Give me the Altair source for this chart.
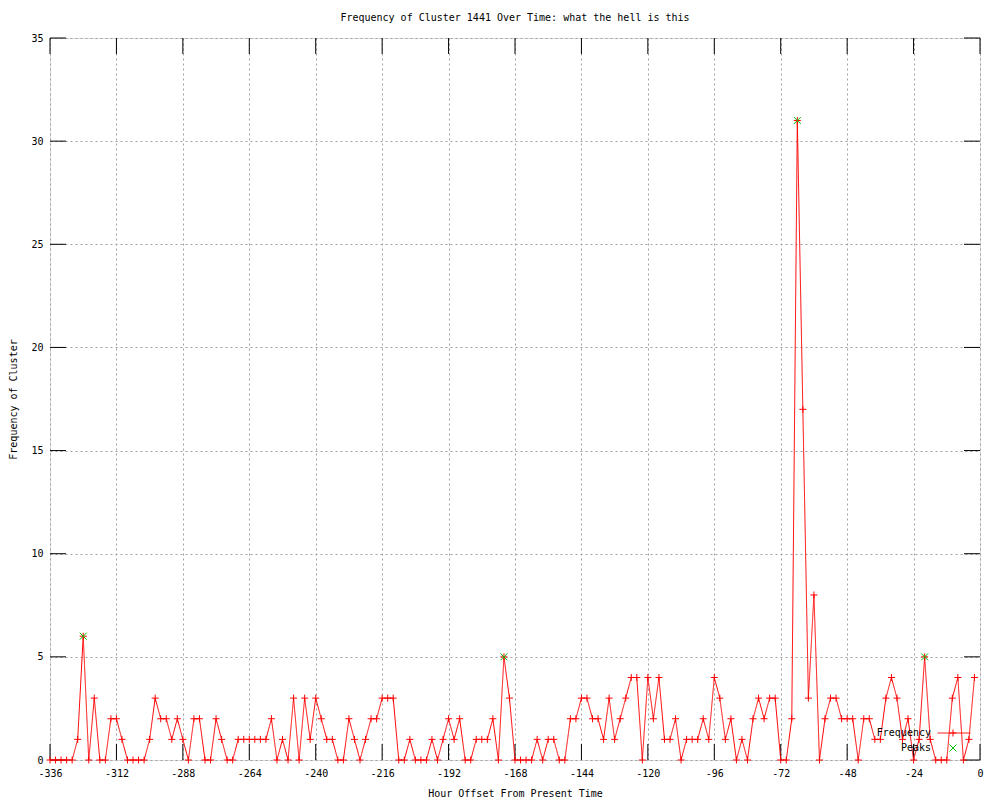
import altair as alt
import pandas as pd

# ---- data ----
hours = list(range(-336, 0, 2))
freq = [
    0, 0, 0, 0, 0, 1, 6, 0, 3, 0,
    0, 2, 2, 1, 0, 0, 0, 0, 1, 3,
    2, 2, 1, 2, 1, 0, 2, 2, 0, 0,
    2, 1, 0, 0, 1, 1, 1, 1, 1, 1,
    2, 0, 1, 0, 3, 0, 3, 1, 3, 2,
    1, 1, 0, 0, 2, 1, 0, 1, 2, 2,
    3, 3, 3, 0, 0, 1, 0, 0, 0, 1,
    0, 1, 2, 1, 2, 0, 0, 1, 1, 1,
    2, 0, 5, 3, 0, 0, 0, 0, 1, 0,
    1, 1, 0, 0, 2, 2, 3, 3, 2, 2,
    1, 3, 1, 2, 3, 4, 4, 0, 4, 2,
    4, 1, 1, 2, 0, 1, 1, 1, 2, 1,
    4, 3, 1, 2, 0, 1, 0, 2, 3, 2,
    3, 3, 0, 0, 2, 31, 17, 3, 8, 0,
    2, 3, 3, 2, 2, 2, 0, 2, 2, 1,
    1, 3, 4, 3, 1, 2, 0, 1, 5, 1,
    0, 0, 0, 3, 4, 0, 1, 4,
]
peak_hours = [-324, -172, -66, -20]
peak_values = [6, 5, 31, 5]
series_names = ["Frequency", "Peaks"]
x_ticks = list(range(-336, 1, 24))
y_ticks = list(range(0, 36, 5))

df = pd.DataFrame({"hour": hours, "freq": freq, "series": series_names[0]})
pk = pd.DataFrame({"hour": peak_hours, "freq": peak_values, "series": series_names[1]})
xt = pd.DataFrame({"t": x_ticks})
yt = pd.DataFrame({"t": y_ticks})

W, H = 930, 722
FONT = "DejaVu Sans Mono"
TICK = 16

xs = alt.Scale(domain=[-336, 0], nice=False, zero=False)
ys = alt.Scale(domain=[0, 35], nice=False)

cross = "M-1,0L1,0M0,-1L0,1"
xmark = "M-1,-1L1,1M-1,1L1,-1"
color_scale = alt.Scale(domain=series_names, range=["#ff0000", "#00c000"])
shape_scale = alt.Scale(domain=series_names, range=[cross, xmark])

x_axis = alt.Axis(values=x_ticks, title="Hour Offset From Present Time", grid=True,
                  gridColor="#a0a0a0", gridDash=[2, 3], gridWidth=1, ticks=False,
                  domain=False, labelFont=FONT, labelFontSize=10, labelColor="black",
                  labelPadding=8, labelExpr="'' + datum.value", titleFont=FONT,
                  titleFontSize=10, titleFontWeight="normal", titleColor="black",
                  titlePadding=10, labelFlush=False)
y_axis = alt.Axis(values=y_ticks, title="Frequency of Cluster", grid=True,
                  gridColor="#a0a0a0", gridDash=[2, 3], gridWidth=1, ticks=False,
                  domain=False, labelFont=FONT, labelFontSize=10, labelColor="black",
                  labelPadding=7, titleFont=FONT, titleFontSize=10,
                  titleFontWeight="normal", titleColor="black", titlePadding=12,
                  labelFlush=False)

legend = alt.Legend(title=None, orient="none", legendX=898, legendY=690,
                    labelAlign="right", labelOffset={"expr": "-27"}, labelFont=FONT,
                    labelFontSize=10, labelColor="black", symbolSize=49,
                    symbolStrokeWidth=1, rowPadding=3, padding=0)

line_legend = alt.Legend(title=None, orient="none", legendX=887, legendY=678,
                         labelExpr="''", symbolType="stroke", symbolSize=1089,
                         symbolStrokeColor="#ff0000", symbolStrokeWidth=1,
                         padding=0, labelFontSize=1)

base_x = alt.X("hour:Q", scale=xs, axis=x_axis)
base_y = alt.Y("freq:Q", scale=ys, axis=y_axis)

line = alt.Chart(df).mark_line(color="#ff0000", strokeWidth=1).encode(
    x=base_x, y=base_y,
    strokeDash=alt.StrokeDash("series:N", scale=alt.Scale(domain=[series_names[0]], range=[[1, 0]]),
                              legend=line_legend),
)

pts = alt.Chart(df).mark_point(filled=False, size=49, strokeWidth=1, opacity=1).encode(
    x=alt.X("hour:Q", scale=xs),
    y=alt.Y("freq:Q", scale=ys),
    color=alt.Color("series:N", scale=color_scale, legend=legend),
    shape=alt.Shape("series:N", scale=shape_scale, legend=legend),
)
peaks = alt.Chart(pk).mark_point(filled=False, size=49, strokeWidth=1, opacity=1).encode(
    x=alt.X("hour:Q", scale=xs),
    y=alt.Y("freq:Q", scale=ys),
    color=alt.Color("series:N", scale=color_scale, legend=legend),
    shape=alt.Shape("series:N", scale=shape_scale, legend=legend),
)

tick_x_bottom = alt.Chart(xt).mark_rule(color="black", strokeWidth=1).encode(
    x=alt.X("t:Q", scale=xs), y=alt.value(H), y2=alt.value(H - TICK))
tick_x_top = alt.Chart(xt).mark_rule(color="black", strokeWidth=1).encode(
    x=alt.X("t:Q", scale=xs), y=alt.value(0), y2=alt.value(TICK))
tick_y_left = alt.Chart(yt).mark_rule(color="black", strokeWidth=1).encode(
    y=alt.Y("t:Q", scale=ys), x=alt.value(0), x2=alt.value(TICK))
tick_y_right = alt.Chart(yt).mark_rule(color="black", strokeWidth=1).encode(
    y=alt.Y("t:Q", scale=ys), x=alt.value(W), x2=alt.value(W - TICK))

chart = alt.layer(
    tick_x_bottom, tick_x_top, tick_y_left, tick_y_right, line, pts, peaks
).properties(
    width=W, height=H,
    title=alt.TitleParams("Frequency of Cluster 1441 Over Time: what the hell is this",
                          font=FONT, fontSize=10, fontWeight="normal", color="black",
                          anchor="middle", offset=10),
    autosize=alt.AutoSizeParams(type="none"),
    padding={"left": 42, "top": 30, "right": 12, "bottom": 40},
).configure_view(stroke="black", strokeWidth=1).configure(background="white")

chart.save("out.html", embed_options={"renderer": "svg", "actions": False})
